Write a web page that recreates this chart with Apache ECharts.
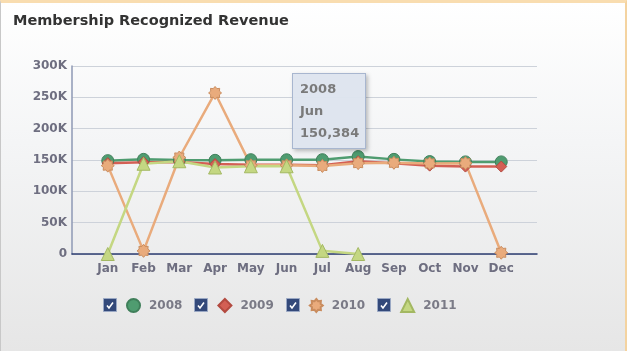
<!DOCTYPE html>
<html>
<head>
<meta charset="utf-8">
<script src="https://cdn.jsdelivr.net/npm/echarts@6/dist/echarts.min.js"></script>
<style>
  html, body { margin: 0; padding: 0; }
  #frame {
    position: absolute; left: 0; top: 0;
    width: 624px; height: 348px;
    border-top: 3px solid #f9ddb0;
    border-right: 2px solid #f4d3a0;
    border-left: 1px solid #c8c8c8;
    background: linear-gradient(to bottom, #ffffff 0%, #f4f5f6 40%, #e6e6e6 100%);
  }
  #container { width: 624px; height: 348px; }
</style>
</head>
<body>
<div id="frame"><div id="container"></div></div>
<script>
// months on the x axis
var months = ['Jan', 'Feb', 'Mar', 'Apr', 'May', 'Jun', 'Jul', 'Aug', 'Sep', 'Oct', 'Nov', 'Dec'];
var yTicks = [0, 50000, 100000, 150000, 200000, 250000, 300000];

// revenue per year
var rev2008 = [149000, 151000, 150000, 149500, 150500, 150384, 150500, 155500, 151000, 147500, 147000, 147000];
var rev2009 = [145000, 146500, 147000, 143500, 142500, 142500, 141500, 148000, 145000, 141000, 139500, 139500];
var rev2010 = [141000, 5000, 154000, 257000, 141500, 141500, 140500, 145000, 145500, 144500, 145000, 2000];
var rev2011 = [0, 144000, 148000, 138000, 140000, 140000, 5000, 0, null, null, null, null];

var years = ['2008', '2009', '2010', '2011'];
var colors = ['#4f9c70', '#d35f54', '#e9ab7c', '#c4d782'];
var borders = ['#3f7f5a', '#b34a40', '#c98c5e', '#a3b862'];

// 8-point burst for 2010
function burst() {
  var p = [];
  for (var i = 0; i < 16; i++) {
    var a = Math.PI * 2 * i / 16 - Math.PI / 2;
    var r = i % 2 === 0 ? 10 : 7.2;
    p.push((10 + r * Math.cos(a)).toFixed(2) + ',' + (10 + r * Math.sin(a)).toFixed(2));
  }
  return 'path://M' + p.join('L') + 'Z';
}
var symbols = ['circle', 'diamond', burst(), 'triangle'];
var sizes = [12, 11, 13, 13];

function pts(arr) {
  return arr.map(function (v, i) { return [i + 1, v]; });
}

var chart = echarts.init(document.getElementById('container'));

var font = 'DejaVu Sans';
var series = [rev2008, rev2009, rev2010, rev2011].map(function (d, i) {
  return {
    name: years[i],
    type: 'line',
    data: pts(d),
    symbol: symbols[i],
    symbolSize: sizes[i],
    lineStyle: { width: 2.5, color: colors[i] },
    itemStyle: { color: colors[i], borderColor: borders[i], borderWidth: 1 },
    emphasis: { disabled: true },
    animation: false
  };
});

// checkbox decorations in front of each legend item
var checks = [102, 193, 285, 376].map(function (x) {
  return {
    type: 'group', left: x, top: 295,
    children: [
      { type: 'rect', shape: { x: 0, y: 0, width: 13, height: 13 }, style: { fill: '#33497a', stroke: '#9aa8c4', lineWidth: 1 } },
      { type: 'polyline', shape: { points: [[3.5, 7], [5.5, 9.5], [9.5, 4]] }, style: { stroke: '#ffffff', lineWidth: 1.6, fill: null } }
    ]
  };
});

chart.setOption({
  animation: false,
  title: {
    text: 'Membership Recognized Revenue',
    left: 7, top: 6,
    textStyle: { fontFamily: font, fontSize: 14.5, fontWeight: 'bold', color: '#333333' }
  },
  grid: { left: 71, right: 88, top: 63, bottom: 97 },
  tooltip: {
    trigger: 'item',
    alwaysShowContent: true,
    position: [291, 70],
    backgroundColor: 'rgba(222,228,238,0.96)',
    borderColor: '#a8b6cf',
    borderWidth: 1,
    padding: [4, 6, 4, 7],
    extraCssText: 'box-shadow: 2px 2px 4px rgba(0,0,0,0.25); border-radius: 0; line-height: 22px;',
    textStyle: { fontFamily: font, fontSize: 13, fontWeight: 'bold', color: '#7a7a7a' },
    formatter: function (p) {
      return '<b>' + p.seriesName + '<br/>' + months[p.value[0] - 1] + '<br/>' +
        p.value[1].toLocaleString('en-US') + '</b>';
    }
  },
  legend: {
    data: years.map(function (y, i) { return { name: y, icon: symbols[i] }; }),
    left: 125, top: 295, padding: 0,
    itemWidth: 13, itemHeight: 13, itemGap: 35,
    selectedMode: false,
    textStyle: { fontFamily: font, fontSize: 12, fontWeight: 'bold', color: '#7a7a86', padding: [0, 0, 0, 4] }
  },
  xAxis: {
    type: 'value', min: 0, max: 13, interval: 1,
    axisLine: { lineStyle: { color: '#2c3d70', width: 1.5 } },
    axisTick: { show: false },
    splitLine: { show: false },
    axisLabel: {
      margin: 9,
      fontFamily: font, fontSize: 12, fontWeight: 'bold', color: '#6e6e80',
      formatter: function (v) { return months[v - 1] || ''; }
    }
  },
  yAxis: {
    type: 'value', min: yTicks[0], max: yTicks[yTicks.length - 1], interval: yTicks[1] - yTicks[0],
    axisLine: { show: true, lineStyle: { color: '#8e98b4', width: 1.5 } },
    axisTick: { show: false },
    splitLine: { lineStyle: { color: '#cdd2da' } },
    axisLabel: {
      margin: 5,
      fontFamily: font, fontSize: 12, fontWeight: 'bold', color: '#6e6e80',
      formatter: function (v) { return v === 0 ? '0' : (v / 1000) + 'K'; }
    }
  },
  graphic: checks,
  series: series
});

chart.dispatchAction({ type: 'showTip', seriesIndex: 0, dataIndex: 5 });
</script>
</body>
</html>
